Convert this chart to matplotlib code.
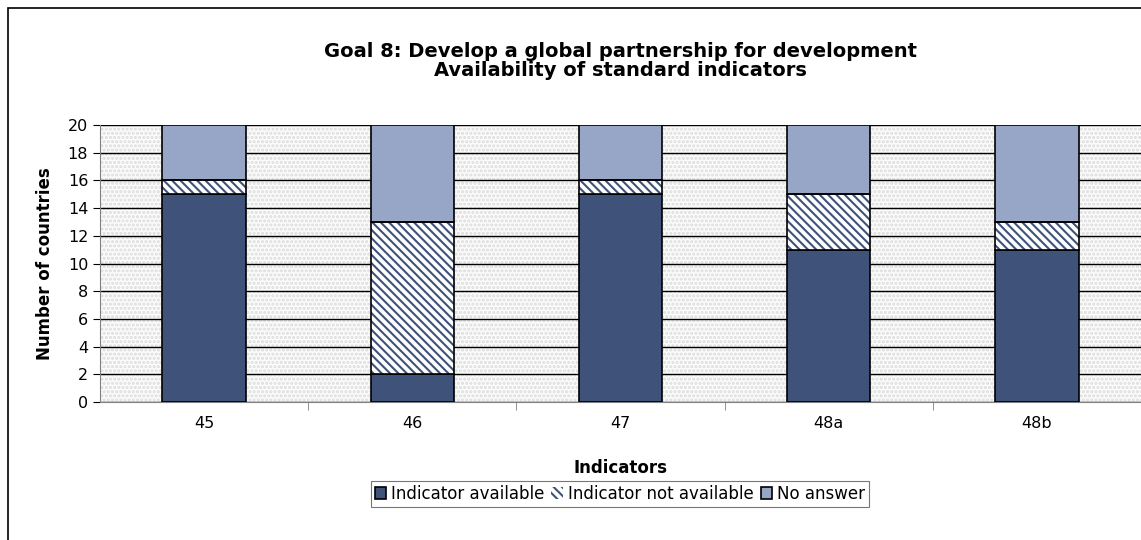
import matplotlib.pyplot as plt
from matplotlib.patches import Rectangle
import numpy as np

plt.rcParams['font.family'] = ['DejaVu Sans']
plt.rcParams['hatch.linewidth'] = 1.5

indicators = ['45', '46', '47', '48a', '48b']
available = [15, 2, 15, 11, 11]
not_available = [1, 11, 1, 4, 2]
no_answer = [4, 7, 4, 5, 7]

dark = '#3F527A'
light = '#97A6C6'

fig = plt.figure(figsize=(11.41, 5.40), dpi=100)
ax = fig.add_axes([100 / 1141, 1 - 402 / 540, 1 - 100 / 1141, (402 - 125) / 540])

# dotted grey plot area
ax.set_facecolor('#fbfbfb')
ax.add_patch(Rectangle((0, 0), 1, 1, transform=ax.transAxes, facecolor='none',
                       edgecolor='#dcdcdc', hatch='....', linewidth=0, zorder=0))

x = np.arange(len(indicators))
w = 0.40
b1 = np.array(available)
b2 = b1 + np.array(not_available)

ax.bar(x, available, w, color=dark, edgecolor='black', linewidth=1.2,
       label='Indicator available', zorder=3)
ax.bar(x, not_available, w, bottom=b1, color='white', edgecolor=dark, hatch='\\\\\\\\',
       linewidth=0, label='Indicator not available', zorder=3)
ax.bar(x, not_available, w, bottom=b1, color='none', edgecolor='black', linewidth=1.2,
       zorder=4)
ax.bar(x, no_answer, w, bottom=b2, color=light, edgecolor='black', linewidth=1.2,
       label='No answer', zorder=3)

ax.set_xlim(-0.5, len(indicators) - 0.5)
ax.set_ylim(0, 20)
ax.set_yticks(range(0, 21, 2))
ax.set_xticks(x)
ax.set_xticklabels(indicators)
ax.set_xticks(np.arange(0.5, len(indicators) - 1, 1), minor=True)
ax.tick_params(axis='x', which='major', length=0, labelsize=11.5, pad=10)
ax.tick_params(axis='x', which='minor', length=6, color='#808080')
ax.tick_params(axis='y', length=5, color='black', labelsize=11.5, direction='out')
ax.yaxis.grid(True, color='black', linewidth=1.0, zorder=1)
ax.set_axisbelow(True)
for s in ['top', 'right']:
    ax.spines[s].set_visible(False)
ax.spines['left'].set_color('#808080')
ax.spines['bottom'].set_color('#808080')

ax.set_xlabel('Indicators', fontsize=12, fontweight='bold', labelpad=20)
ax.set_ylabel('Number of countries', fontsize=12, fontweight='bold', labelpad=10)

fig.text(620 / 1141, 1 - 61 / 540,
         'Goal 8: Develop a global partnership for development\nAvailability of standard indicators',
         ha='center', va='center', fontsize=14, fontweight='bold', linespacing=1.0)

leg = fig.legend(loc='center', bbox_to_anchor=(620 / 1141, 1 - 494 / 540), ncol=3,
                 frameon=True, fancybox=False, fontsize=12, handlelength=0.7,
                 handleheight=0.7, handletextpad=0.3, columnspacing=0.4,
                 borderpad=0.25, edgecolor='#555555')
leg.get_frame().set_linewidth(0.8)

# outer chart border
fig.patches.append(Rectangle((8 / 1141, -0.1), 1.2, 1 - 8 / 540 + 0.1,
                             transform=fig.transFigure, fill=False,
                             edgecolor='black', linewidth=1.2))

fig.savefig('out.png', dpi=100)
